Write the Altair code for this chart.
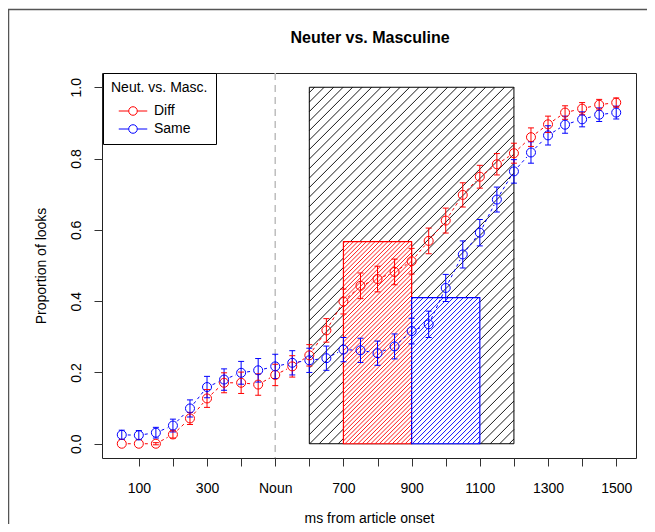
import altair as alt
import pandas as pd
import numpy as np

# ---------------- data ----------------
times = [50, 100, 150, 200, 250, 300, 350, 400, 450, 500, 550, 600, 650, 700, 750,
         800, 850, 900, 950, 1000, 1050, 1100, 1150, 1200, 1250, 1300, 1350, 1400, 1450, 1500]
diff_vals = [0.0, 0.0, 0.0, 0.026, 0.071, 0.127, 0.171, 0.171, 0.166, 0.193, 0.217, 0.248,
             0.318, 0.399, 0.443, 0.462, 0.482, 0.512, 0.569, 0.626, 0.698, 0.749, 0.784,
             0.815, 0.860, 0.896, 0.929, 0.940, 0.951, 0.957]
same_vals = [0.025, 0.024, 0.031, 0.051, 0.099, 0.159, 0.180, 0.199, 0.206, 0.217, 0.227,
             0.234, 0.240, 0.264, 0.262, 0.254, 0.273, 0.316, 0.335, 0.437, 0.531, 0.592,
             0.685, 0.764, 0.817, 0.865, 0.895, 0.910, 0.923, 0.929]
diff_err = [0.0, 0.0, 0.003, 0.010, 0.017, 0.025, 0.028, 0.030, 0.030, 0.030, 0.030, 0.030,
            0.033, 0.035, 0.036, 0.036, 0.036, 0.036, 0.036, 0.035, 0.034, 0.032, 0.030,
            0.028, 0.026, 0.023, 0.019, 0.017, 0.015, 0.013]
same_err = [0.013, 0.013, 0.015, 0.018, 0.024, 0.030, 0.030, 0.032, 0.033, 0.034, 0.034,
            0.034, 0.034, 0.034, 0.034, 0.034, 0.035, 0.036, 0.037, 0.038, 0.038, 0.037,
            0.035, 0.033, 0.030, 0.027, 0.024, 0.021, 0.019, 0.018]
series_names = ["Diff", "Same"]
series_colors = ["#FF0000", "#0000FF"]

# analysis windows (x0, x1, height)
win_names = ["All", "Diff", "Same"]
win_x0 = [600, 700, 900]
win_x1 = [1200, 900, 1100]
win_top = [1.0, 0.567, 0.41]
win_colors = ["#000000", "#FF0000", "#0000FF"]
win_hatch_step = [9.5, 4.3, 5.0]  # hatch spacing (px, horizontal)

noun_onset = [500]
x_tick_values = [100, 200, 300, 400, 500, 600, 700, 800, 900, 1000, 1100, 1200, 1300, 1400, 1500]
y_tick_values = [0.0, 0.2, 0.4, 0.6, 0.8, 1.0]
title_text = ["Neuter vs. Masculine"]

# ---------------- geometry ----------------
W, H = 534, 385
XMIN, XMAX = -8, 1558
YMIN, YMAX = -0.04, 1.04
SX = W / (XMAX - XMIN)
SY = H / (YMAX - YMIN)
FONT = "Liberation Sans"

def to_px(x, y):
    return (x - XMIN) * SX, (y - YMIN) * SY

def to_data(px, py):
    return px / SX + XMIN, py / SY + YMIN

# long data
rows = []
for name, vals, errs in [("Diff", diff_vals, diff_err), ("Same", same_vals, same_err)]:
    for t, v, e in zip(times, vals, errs):
        rows.append({"t": t, "p": v, "lo": v - e, "hi": v + e, "err": e, "series": name})
df = pd.DataFrame(rows)
df_err = df[df["err"] > 0].copy()
CAP = 3.0 / SX  # half-width of error-bar caps (3 px)
df_err["cl"] = df_err["t"] - CAP
df_err["cr"] = df_err["t"] + CAP

# connecting segments with gaps round the points (like R type="b")
GAP = 6.0
segs = []
for name in series_names:
    sub = df[df["series"] == name].reset_index(drop=True)
    for i in range(len(sub) - 1):
        ax, ay = to_px(sub.t[i], sub.p[i])
        bx, by = to_px(sub.t[i + 1], sub.p[i + 1])
        d = np.hypot(bx - ax, by - ay)
        if d <= 2 * GAP + 1:
            continue
        ux, uy = (bx - ax) / d, (by - ay) / d
        x1, y1 = to_data(ax + ux * GAP, ay + uy * GAP)
        x2, y2 = to_data(bx - ux * GAP, by - uy * GAP)
        segs.append({"x": x1, "y": y1, "x2": x2, "y2": y2, "series": name})
df_seg = pd.DataFrame(segs)

# windows & hatching
df_win = pd.DataFrame({"name": win_names, "x0": win_x0, "x1": win_x1,
                       "y0": [0.0] * 3, "y1": win_top, "col": win_colors})
hatch_rows = []
for name, x0, x1, top, col, step in zip(win_names, win_x0, win_x1, win_top, win_colors, win_hatch_step):
    px0, py0 = to_px(x0, 0.0)
    px1, py1 = to_px(x1, top)
    c = py0 - px1 + step / 2
    while c < py1 - px0:
        xa = max(px0, py0 - c)
        xb = min(px1, py1 - c)
        if xb > xa:
            dx1, dy1 = to_data(xa, xa + c)
            dx2, dy2 = to_data(xb, xb + c)
            hatch_rows.append({"x": dx1, "y": dy1, "x2": dx2, "y2": dy2, "name": name, "col": col})
        c += step
df_hatch = pd.DataFrame(hatch_rows)

# ---------------- encodings ----------------
xscale = alt.Scale(domain=[XMIN, XMAX], nice=False, zero=False)
yscale = alt.Scale(domain=[YMIN, YMAX], nice=False, zero=False)
xaxis = alt.Axis(values=x_tick_values, format="d",
                 labelExpr="datum.value == 500 ? 'Noun' : (datum.value % 200 == 100 ? datum.label : '')",
                 tickSize=8, labelPadding=15, titlePadding=16, labelFlush=False, labelOverlap=False)
yaxis = alt.Axis(values=y_tick_values, format=".1f", labelAngle=270, labelAlign="center",
                 labelBaseline="alphabetic", tickSize=8, labelPadding=14, titlePadding=21)
XT = "ms from article onset"
YT = "Proportion of looks"

def X(f):
    return alt.X(f, type="quantitative", scale=xscale, axis=xaxis, title=XT)

def Y(f):
    return alt.Y(f, type="quantitative", scale=yscale, axis=yaxis, title=YT)

legend_symbol = ("M-1.5,0L-0.45,0M0.45,0L1.5,0M0.45,0A0.45,0.45,0,1,1,-0.45,0"
                 "A0.45,0.45,0,1,1,0.45,0")
color_scale = alt.Scale(domain=series_names, range=series_colors)
series_legend = alt.Legend(title="Neut. vs. Masc.", orient="none", legendX=1, legendY=0,
                           strokeColor="#000000", fillColor="white", padding=8,
                           symbolType=legend_symbol, symbolSize=361, symbolOpacity=1,
                           symbolStrokeWidth=1, symbolOffset=12, labelOffset=11,
                           symbolFillColor="transparent",
                           titleFontWeight="normal", titleFontSize=14, labelFontSize=14,
                           titleFont=FONT, labelFont=FONT, titlePadding=6,
                           rowPadding=1, titleColor="black", labelColor="black")
SCOL_LEG = alt.Color("series:N", scale=color_scale, legend=series_legend, title="Neut. vs. Masc.")
SCOL = alt.Color("series:N", scale=color_scale, legend=None)
WSTROKE = alt.Stroke("col:N", scale=None, legend=None)

black_rect = alt.Chart(df_win[df_win.name == "All"]).mark_rect(
    fill="transparent", strokeWidth=1).encode(
    x=X("x0"), x2="x1", y=Y("y0"), y2="y1", stroke=WSTROKE)
black_hatch = alt.Chart(df_hatch[df_hatch.name == "All"]).mark_rule(strokeWidth=0.9).encode(
    x=X("x"), x2="x2", y=Y("y"), y2="y2", stroke=WSTROKE)
cw_rects = alt.Chart(df_win[df_win.name != "All"]).mark_rect(
    fill="white", strokeWidth=1.2).encode(
    x=X("x0"), x2="x1", y=Y("y0"), y2="y1", stroke=WSTROKE)
cw_hatch = alt.Chart(df_hatch[df_hatch.name != "All"]).mark_rule(strokeWidth=0.9).encode(
    x=X("x"), x2="x2", y=Y("y"), y2="y2", stroke=WSTROKE)

noun_line = alt.Chart(pd.DataFrame({"t": noun_onset})).mark_rule(
    color="#BEBEBE", strokeDash=[7, 5], strokeWidth=1.5).encode(
    x=X("t"), y=alt.value(0), y2=alt.value(H))

seg_layer = alt.Chart(df_seg).mark_rule(strokeDash=[3, 3], strokeWidth=1).encode(
    x=X("x"), x2="x2", y=Y("y"), y2="y2", color=SCOL)

err_rule = alt.Chart(df_err).mark_rule(strokeWidth=1).encode(
    x=X("t"), y=Y("lo"), y2="hi", color=SCOL)
err_lo = alt.Chart(df_err).mark_rule(strokeWidth=1).encode(
    x=X("cl"), x2="cr", y=Y("lo"), color=SCOL)
err_hi = alt.Chart(df_err).mark_rule(strokeWidth=1).encode(
    x=X("cl"), x2="cr", y=Y("hi"), color=SCOL)

points = alt.Chart(df).mark_point(shape="circle", filled=False, size=81, strokeWidth=1,
                                  opacity=1).encode(
    x=X("t"), y=Y("p"), color=SCOL_LEG)

title_layer = alt.Chart(pd.DataFrame({"txt": title_text})).mark_text(
    font=FONT, fontSize=16, fontWeight="bold", color="black", baseline="alphabetic",
    align="center").encode(x=alt.value(W / 2 + 1), y=alt.value(-30), text="txt:N")

# outer frame of the figure
frame_left = alt.Chart(pd.DataFrame({"a": [0]})).mark_rule(color="#555555", strokeWidth=1.5).encode(
    x=alt.value(-93.5), y=alt.value(-64), y2=alt.value(H + 66))
frame_top = alt.Chart(pd.DataFrame({"a": [0]})).mark_rule(color="#555555", strokeWidth=1.5).encode(
    x=alt.value(-94), x2=alt.value(W + 11), y=alt.value(-63.5))

chart = alt.layer(
    black_hatch, black_rect, cw_rects, cw_hatch, noun_line, seg_layer,
    err_rule, err_lo, err_hi, points, title_layer, frame_left, frame_top
).resolve_legend(
    color="independent"
).properties(
    width=W, height=H,
    autosize=alt.AutoSizeParams(type="none"),
    padding={"left": 94, "top": 65, "right": 11, "bottom": 66},
    background="white",
).configure_view(
    stroke="#222222", strokeWidth=1
).configure_axis(
    grid=False, domain=False, tickColor="#333333", tickWidth=1,
    labelFont=FONT, labelFontSize=14, labelColor="black",
    titleFont=FONT, titleFontSize=14, titleFontWeight="normal", titleColor="black"
)

chart.save("out.html", embed_options={"renderer": "svg", "actions": False})
